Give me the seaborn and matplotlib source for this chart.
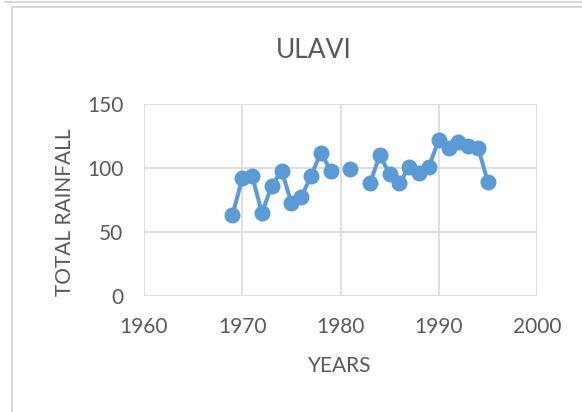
import matplotlib
matplotlib.use("Agg")
import matplotlib.pyplot as plt
from matplotlib.lines import Line2D
import seaborn as sns
import pandas as pd
import numpy as np

years = [1969, 1970, 1971, 1972, 1973, 1974, 1975, 1976, 1977, 1978, 1979, 1980,
         1981, 1982, 1983, 1984, 1985, 1986, 1987, 1988, 1989, 1990, 1991, 1992,
         1993, 1994, 1995]
rainfall = [63, 92, 94, 65, 86, 98, 73, 77, 94, 112, 98, np.nan,
            99, np.nan, 88, 110, 95, 88, 101, 96, 101, 122, 116, 120,
            117, 116, 89]

df = pd.DataFrame({"year": years, "rain": rainfall})
# break the line where a year is missing
df["seg"] = df["rain"].isna().cumsum()
df = df.dropna()

sns.set_style("white")
plt.rcParams["font.family"] = ["Lato", "DejaVu Sans"]
grey = "#595959"
blue = "#5B9BD5"

fig = plt.figure(figsize=(5.82, 4.12), dpi=100)
ax = fig.add_axes([144/582, 1-296/412, (537-144)/582, (296-104)/412])

sns.lineplot(data=df, x="year", y="rain", units="seg", estimator=None,
             color=blue, linewidth=2.9, marker="o", markersize=11.5,
             markeredgewidth=0, ax=ax)

ax.set_xlim(1960, 2000)
ax.set_ylim(0, 150)
ax.set_xticks([1960, 1970, 1980, 1990, 2000])
ax.set_yticks([0, 50, 100, 150])
ax.grid(True, color="#d9d9d9", linewidth=1.2)
for s in ax.spines.values():
    s.set_visible(False)
ax.tick_params(length=0, labelsize=15, colors=grey, pad=15)
ax.set_xlabel("")
ax.set_ylabel("")

fig.text(340/582, 1-366/412, "YEARS", ha="center", va="center", fontsize=15, color=grey)
fig.text(65/582, 1-212/412, "TOTAL RAINFALL", ha="center", va="center",
         rotation=90, fontsize=15, color=grey)
fig.text(314/582, 1-50/412, "ULAVI", ha="center", va="center", fontsize=19, color=grey)

# chart frame
fig.add_artist(Line2D([5/582, 1], [1-2/412, 1-2/412], color="#d9d9d9", linewidth=1.5))
fig.add_artist(Line2D([12/582, 1], [1-7/412, 1-7/412], color="#d9d9d9", linewidth=1.5))
fig.add_artist(Line2D([12/582, 12/582], [0, 1-7/412], color="#d9d9d9", linewidth=1.5))

fig.savefig("out.png", dpi=100)
